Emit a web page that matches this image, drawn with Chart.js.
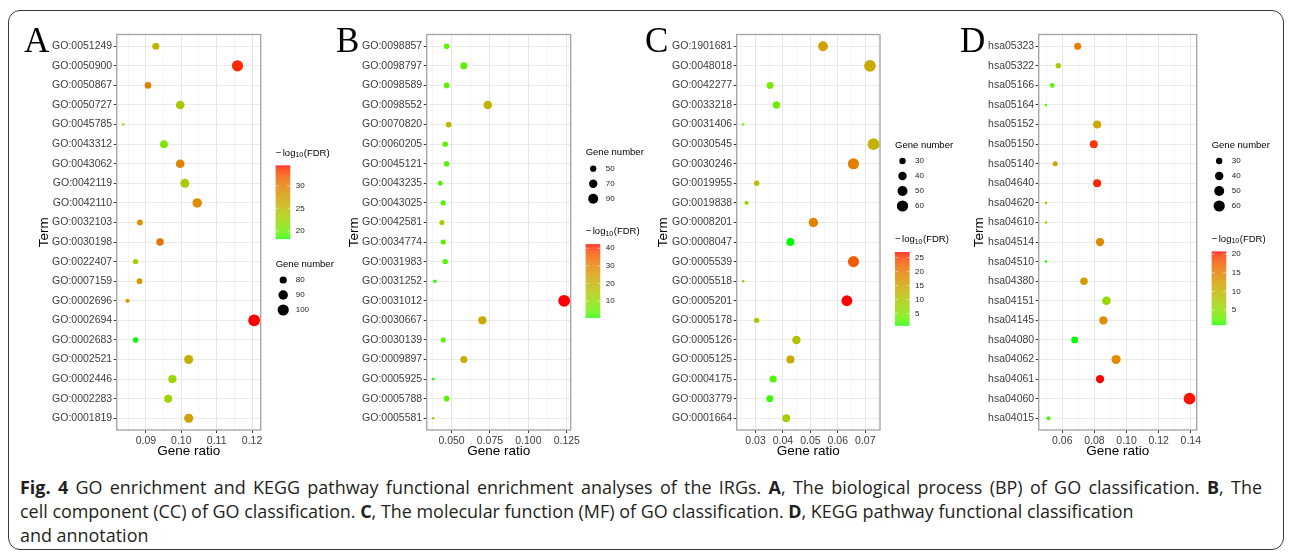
<!DOCTYPE html>
<html>
<head>
<meta charset="utf-8">
<script src="https://cdn.jsdelivr.net/npm/chart.js@4"></script>
<style>
  body { margin: 0; background: #fff; width: 1290px; height: 554px; overflow: hidden; position: relative; }
  .frame { position: absolute; left: 8px; top: 10px; width: 1276px; height: 540px; border: 1.5px solid #3a3a3a; border-radius: 12px; box-sizing: border-box; }
  canvas { position: absolute; top: 20px; }
  .cap { position: absolute; left: 20px; top: 475px; width: 1242px; font-family: "Open Sans", "Noto Sans", sans-serif; font-size: 17.95px; line-height: 24px; color: #231f20; }
  .cap div { white-space: nowrap; }
  .cap .l1 { text-align: justify; text-align-last: justify; }
</style>
</head>
<body>
<div class="frame"></div>
<canvas id="cA" width="325" height="450" style="left:15px"></canvas>
<canvas id="cB" width="320" height="450" style="left:330px"></canvas>
<canvas id="cC" width="320" height="450" style="left:640px"></canvas>
<canvas id="cD" width="335" height="450" style="left:950px"></canvas>
<div class="cap">
  <div class="l1"><b>Fig. 4</b> GO enrichment and KEGG pathway functional enrichment analyses of the IRGs. <b>A</b>, The biological process (BP) of GO classification. <b>B</b>, The</div>
  <div>cell component (CC) of GO classification. <b>C</b>, The molecular function (MF) of GO classification. <b>D</b>, KEGG pathway functional classification</div>
  <div>and annotation</div>
</div>
<script>
// ---- data (top to bottom order of terms) ----
const termsA = ["GO:0051249","GO:0050900","GO:0050867","GO:0050727","GO:0045785","GO:0043312","GO:0043062","GO:0042119","GO:0042110","GO:0032103","GO:0030198","GO:0022407","GO:0007159","GO:0002696","GO:0002694","GO:0002683","GO:0002521","GO:0002446","GO:0002283","GO:0001819"];
const ratioA = [0.0928,0.1159,0.0906,0.0997,0.0836,0.0951,0.0997,0.1010,0.1045,0.0883,0.0940,0.0871,0.0882,0.0848,0.1206,0.0871,0.1021,0.0975,0.0963,0.1021];
const countA = [80,100,78,86,72,82,86,87,90,76,81,75,76,73,104,75,88,84,83,88];
const fdrA = [25.5,33.9,30.0,23.6,21.0,20.6,29.6,23.1,28.8,28.5,30.6,22.8,27.7,27.7,34.5,18.2,25.9,22.3,22.6,27.2];
const xTicksA = [0.09, 0.10, 0.11, 0.12];
const xLabelsA = ["0.09","0.10","0.11","0.12"];
const fdrTicksA = [20, 25, 30];
const sizeTicksA = [80, 90, 100];

const termsB = ["GO:0098857","GO:0098797","GO:0098589","GO:0098552","GO:0070820","GO:0060205","GO:0045121","GO:0043235","GO:0043025","GO:0042581","GO:0034774","GO:0031983","GO:0031252","GO:0031012","GO:0030667","GO:0030139","GO:0009897","GO:0005925","GO:0005788","GO:0005581"];
const ratioB = [0.0468,0.0580,0.0468,0.0736,0.0481,0.0459,0.0468,0.0427,0.0446,0.0437,0.0446,0.0459,0.0392,0.1233,0.0701,0.0446,0.0580,0.0381,0.0468,0.0381];
const countB = [46,57,46,72,47,45,46,42,43,43,43,45,38,120,68,43,57,37,46,37];
const fdrB = [3.8,3.8,3.8,19.3,18.0,3.5,3.5,2.6,3.0,15.5,3.0,3.5,1.5,42.3,21.4,3.0,21.0,0.5,4.0,17.0];
const xTicksB = [0.050, 0.075, 0.100, 0.125];
const xLabelsB = ["0.050","0.075","0.100","0.125"];
const fdrTicksB = [10, 20, 30, 40];
const sizeTicksB = [50, 70, 90];

const termsC = ["GO:1901681","GO:0048018","GO:0042277","GO:0033218","GO:0031406","GO:0030545","GO:0030246","GO:0019955","GO:0019838","GO:0008201","GO:0008047","GO:0005539","GO:0005518","GO:0005201","GO:0005178","GO:0005126","GO:0005125","GO:0004175","GO:0003779","GO:0001664"];
const ratioC = [0.0546,0.0717,0.0353,0.0376,0.0255,0.0730,0.0657,0.0304,0.0267,0.0511,0.0427,0.0657,0.0255,0.0633,0.0304,0.0449,0.0427,0.0364,0.0352,0.0412];
const countC = [49,64,32,34,23,65,59,27,24,46,38,59,23,57,27,40,38,33,32,37];
const fdrC = [15.2,13.9,4.6,3.9,4.6,12.5,19.6,11.2,6.5,19.1,0.7,23.1,11.7,27.0,9.4,10.7,13.9,2.3,1.5,8.6];
const xTicksC = [0.03, 0.04, 0.05, 0.06, 0.07];
const xLabelsC = ["0.03","0.04","0.05","0.06","0.07"];
const fdrTicksC = [5, 10, 15, 20, 25];
const sizeTicksC = [30, 40, 50, 60];

const termsD = ["hsa05323","hsa05322","hsa05166","hsa05164","hsa05152","hsa05150","hsa05140","hsa04640","hsa04620","hsa04610","hsa04514","hsa04510","hsa04380","hsa04151","hsa04145","hsa04080","hsa04062","hsa04061","hsa04060","hsa04015"];
const ratioD = [0.0696,0.0575,0.0538,0.0498,0.0817,0.0796,0.0556,0.0817,0.0498,0.0498,0.0835,0.0498,0.0735,0.0875,0.0856,0.0677,0.0935,0.0835,0.1392,0.0515];
const countD = [33,27,25,23,38,37,26,38,23,23,39,23,35,41,40,32,44,39,65,24];
const fdrD = [15.2,7.3,2.2,2.6,11.2,19.7,11.4,20.1,6.9,7.3,14.0,1.4,12.4,5.9,13.8,1.0,14.0,20.7,20.5,2.0];
const xTicksD = [0.06, 0.08, 0.10, 0.12, 0.14];
const xLabelsD = ["0.06","0.08","0.10","0.12","0.14"];
const fdrTicksD = [5, 10, 15, 20];
const sizeTicksD = [30, 40, 50, 60];

// ---- layout (page px) ----
const TOP = 34.5, BOTTOM = 430;
const layout = {
  A: { cx: 15,  w: 325, L: 116.7,  R: 260.7,  letterX: 24,  termX: 44,    sizeY: 264,   cbY: 153 },
  B: { cx: 330, w: 320, L: 426.7,  R: 570.7,  letterX: 336, termX: 354,   sizeY: 152.7, cbY: 231.7 },
  C: { cx: 640, w: 320, L: 736.7,  R: 880,    letterX: 645, termX: 663,   sizeY: 145,   cbY: 239.5 },
  D: { cx: 950, w: 335, L: 1038.7, R: 1196.7, letterX: 960, termX: 979.5, sizeY: 145,   cbY: 239 }
};

// green -> red in Lab space (like ggplot scale_colour_gradient)
function lin(c) { c /= 255; return c <= 0.04045 ? c / 12.92 : Math.pow((c + 0.055) / 1.055, 2.4); }
function gam(c) { c = c <= 0.0031308 ? 12.92 * c : 1.055 * Math.pow(c, 1 / 2.4) - 0.055; return Math.round(Math.max(0, Math.min(1, c)) * 255); }
function rgb2lab(r, g, b) {
  const R = lin(r), G = lin(g), B = lin(b);
  const X = (0.4124 * R + 0.3576 * G + 0.1805 * B) / 0.95047;
  const Y = 0.2126 * R + 0.7152 * G + 0.0722 * B;
  const Z = (0.0193 * R + 0.1192 * G + 0.9505 * B) / 1.08883;
  const f = t => t > 0.008856 ? Math.cbrt(t) : 7.787 * t + 16 / 116;
  return [116 * f(Y) - 16, 500 * (f(X) - f(Y)), 200 * (f(Y) - f(Z))];
}
function lab2rgb(L, a, b) {
  const fy = (L + 16) / 116, fx = fy + a / 500, fz = fy - b / 200;
  const inv = t => t * t * t > 0.008856 ? t * t * t : (t - 16 / 116) / 7.787;
  const X = 0.95047 * inv(fx), Y = inv(fy), Z = 1.08883 * inv(fz);
  const R = 3.2406 * X - 1.5372 * Y - 0.4986 * Z;
  const G = -0.9689 * X + 1.8758 * Y + 0.0415 * Z;
  const B = 0.0557 * X - 0.2040 * Y + 1.0570 * Z;
  return 'rgb(' + gam(R) + ',' + gam(G) + ',' + gam(B) + ')';
}
const labLow = rgb2lab(0, 255, 0), labHigh = rgb2lab(255, 0, 0);
function gradColor(t) {
  t = Math.max(0, Math.min(1, t));
  return lab2rgb(labLow[0] + (labHigh[0] - labLow[0]) * t,
                 labLow[1] + (labHigh[1] - labLow[1]) * t,
                 labLow[2] + (labHigh[2] - labLow[2]) * t);
}

const FONT = 'Liberation Sans';
Chart.defaults.font.family = FONT;

function makePanel(id, terms, ratio, count, fdr, xTicks, xLabels, fdrTicks, sizeTicks) {
  const lay = layout[id];
  const n = terms.length;
  const rlo = Math.min(...ratio), rhi = Math.max(...ratio);
  const pad = (rhi - rlo) * 0.05;
  const xmin = rlo - pad, xmax = rhi + pad;
  const step = xTicks[1] - xTicks[0];
  // major + minor grid ticks
  const xt = [];
  xTicks.forEach(m => {
    if (m - step / 2 >= xmin) xt.push({ value: m - step / 2, major: false });
    if (m >= xmin && m <= xmax) xt.push({ value: m, major: true });
  });
  const last = xTicks[xTicks.length - 1] + step / 2;
  if (last <= xmax) xt.push({ value: last, major: false });

  const clo = Math.min(...count), chi = Math.max(...count);
  const diam = v => 2.6 + 9.2 * Math.sqrt(Math.max(0, (v - clo) / (chi - clo)));
  const flo = Math.min(...fdr), fhi = Math.max(...fdr);
  const colorOf = v => gradColor((v - flo) / (fhi - flo));

  const ox = lay.cx, oy = 20;

  const decor = {
    id: 'decor' + id,
    afterDatasetsDraw(chart) {
      const { ctx, chartArea: a } = chart;
      ctx.save();
      ctx.strokeStyle = '#a8a8a8';
      ctx.lineWidth = 1.4;
      ctx.strokeRect(a.left, a.top, a.right - a.left, a.bottom - a.top);
      ctx.restore();
    },
    afterDraw(chart) {
      const { ctx, chartArea: a } = chart;
      ctx.save();
      // panel letter
      ctx.fillStyle = '#000';
      ctx.font = '35px "Liberation Serif"';
      ctx.textAlign = 'left';
      ctx.textBaseline = 'alphabetic';
      ctx.fillText(id, lay.letterX - ox, 52 - oy);
      // axis titles
      ctx.font = '13.5px "' + FONT + '"';
      ctx.textAlign = 'center';
      ctx.textBaseline = 'middle';
      ctx.fillText('Gene ratio', (a.left + a.right) / 2, a.bottom + 21.7);
      ctx.save();
      ctx.translate(lay.termX - ox, (a.top + a.bottom) / 2);
      ctx.rotate(-Math.PI / 2);
      ctx.fillText('Term', 0, 0);
      ctx.restore();

      const lx = a.right + 15;
      // size legend
      ctx.textAlign = 'left';
      ctx.fillStyle = '#000';
      ctx.font = '9.5px "' + FONT + '"';
      ctx.fillText('Gene number', lx, lay.sizeY - oy);
      sizeTicks.forEach((v, i) => {
        const cy = lay.sizeY - oy + 16 + i * 15;
        ctx.beginPath();
        ctx.arc(a.right + 22.5, cy, diam(v) / 2, 0, Math.PI * 2);
        ctx.fill();
        ctx.font = '8px "' + FONT + '"';
        ctx.fillStyle = '#222';
        ctx.fillText(String(v), a.right + 35, cy);
        ctx.fillStyle = '#000';
      });
      // colour bar
      const ty = lay.cbY - oy;
      ctx.font = '9.5px "' + FONT + '"';
      let tx = lx;
      ctx.fillText('\u2212', tx, ty); tx += ctx.measureText('\u2212').width + 1.5;
      ctx.fillText('log', tx, ty); tx += ctx.measureText('log').width;
      ctx.font = '7px "' + FONT + '"';
      ctx.fillText('10', tx, ty + 2.5); tx += ctx.measureText('10').width + 0.5;
      ctx.font = '9.5px "' + FONT + '"';
      ctx.fillText('(FDR)', tx, ty);
      const bt = ty + 12.5, bh = 73.5, bw = 14.5, bb = bt + bh;
      for (let k = 0; k < bh; k += 0.5) {
        ctx.fillStyle = gradColor(1 - k / bh);
        ctx.fillRect(lx, bt + k, bw, 0.6);
      }
      ctx.strokeStyle = 'rgba(255,255,255,0.8)';
      ctx.lineWidth = 0.6;
      ctx.font = '8px "' + FONT + '"';
      fdrTicks.forEach(v => {
        const y = bb - (v - flo) / (fhi - flo) * bh;
        ctx.beginPath();
        ctx.moveTo(lx, y); ctx.lineTo(lx + 3, y);
        ctx.moveTo(lx + bw - 3, y); ctx.lineTo(lx + bw, y);
        ctx.stroke();
        ctx.fillStyle = '#222';
        ctx.fillText(String(v), a.right + 35, y);
      });
      ctx.restore();
    }
  };

  return new Chart(document.getElementById('c' + id), {
    type: 'bubble',
    data: {
      datasets: [{
        data: ratio.map((x, i) => ({ x: x, y: i, r: diam(count[i]) / 2 })),
        backgroundColor: fdr.map(colorOf),
        borderWidth: 0,
        hoverBorderWidth: 0,
        clip: false
      }]
    },
    options: {
      responsive: false,
      animation: false,
      devicePixelRatio: 1,
      events: [],
      layout: { padding: { left: 0, top: TOP - oy, right: lay.cx + lay.w - lay.R, bottom: 0 } },
      plugins: { legend: { display: false }, tooltip: { enabled: false } },
      scales: {
        x: {
          type: 'linear',
          bounds: 'data',
          min: xmin,
          max: xmax,
          afterBuildTicks: s => { s.ticks = xt.map(t => ({ value: t.value, major: t.major })); },
          afterFit: s => { s.height = 20 + 450 - BOTTOM; },
          border: { display: false },
          grid: {
            color: c => (c.tick && c.tick.major) ? '#e6e6e6' : '#f1f1f1',
            lineWidth: c => (c.tick && c.tick.major) ? 1 : 0.7,
            tickColor: c => (c.tick && c.tick.major) ? '#333' : 'rgba(0,0,0,0)',
            tickLength: 3,
            tickWidth: 1
          },
          ticks: {
            autoSkip: false,
            maxRotation: 0,
            padding: 1.5,
            color: '#3d3d3d',
            font: { size: 10.5 },
            callback: v => {
              const k = xTicks.findIndex(m => Math.abs(m - v) < 1e-9);
              return k >= 0 ? xLabels[k] : '';
            }
          }
        },
        y: {
          type: 'linear',
          bounds: 'data',
          reverse: true,
          min: -0.6,
          max: n - 0.4,
          afterBuildTicks: s => { s.ticks = terms.map((t, i) => ({ value: i })); },
          afterFit: s => { s.width = lay.L - lay.cx; },
          border: { display: false },
          grid: { color: '#ebebeb', lineWidth: 1, tickColor: '#333', tickLength: 3 },
          ticks: {
            autoSkip: false,
            padding: 1.5,
            color: '#3d3d3d',
            font: { size: 10.5 },
            callback: v => terms[v]
          }
        }
      }
    },
    plugins: [decor]
  });
}

makePanel('A', termsA, ratioA, countA, fdrA, xTicksA, xLabelsA, fdrTicksA, sizeTicksA);
makePanel('B', termsB, ratioB, countB, fdrB, xTicksB, xLabelsB, fdrTicksB, sizeTicksB);
makePanel('C', termsC, ratioC, countC, fdrC, xTicksC, xLabelsC, fdrTicksC, sizeTicksC);
makePanel('D', termsD, ratioD, countD, fdrD, xTicksD, xLabelsD, fdrTicksD, sizeTicksD);
</script>
</body>
</html>
